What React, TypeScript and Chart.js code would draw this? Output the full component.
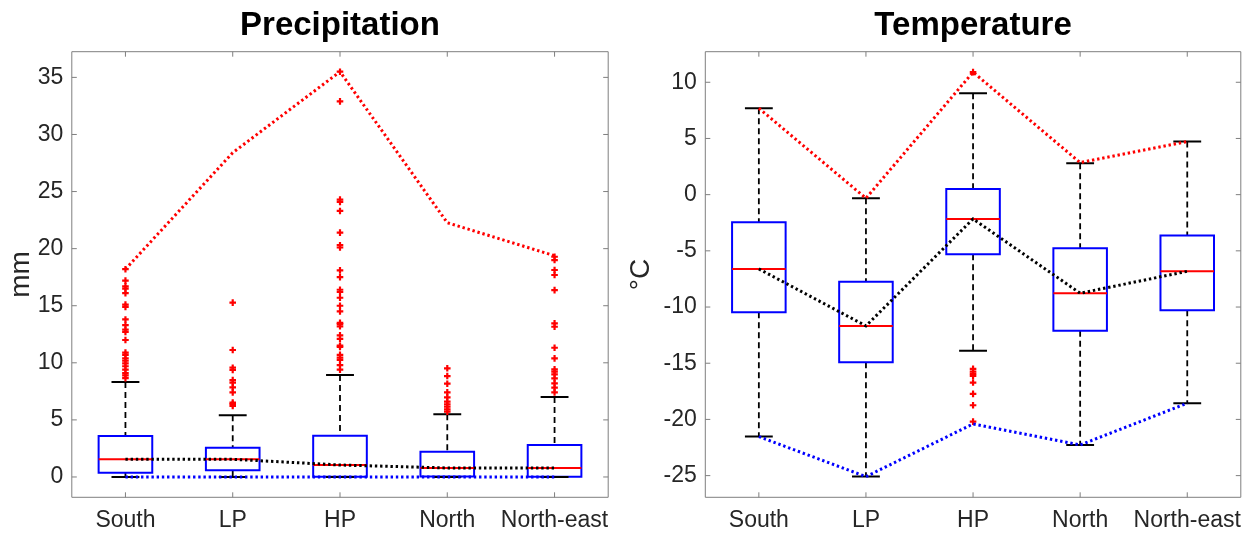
import React, { useEffect, useRef } from 'react';
import { Chart, registerables } from 'chart.js';

Chart.register(...registerables);

// ---------- data ----------
const categories = ['South', 'LP', 'HP', 'North', 'North-east'];

// Precipitation (mm)
const precipTicks = [0, 5, 10, 15, 20, 25, 30, 35];
const precipQ1 = [0.37, 0.6, 0.02, 0.04, 0.02];
const precipMedian = [1.56, 1.55, 1.05, 0.79, 0.78];
const precipQ3 = [3.6, 2.57, 3.62, 2.22, 2.8];
const precipLowerWhisker = [0, 0, 0, 0, 0];
const precipUpperWhisker = [8.33, 5.4, 8.93, 5.5, 7.0];
const precipOutliersSouth = [18.2, 17.2, 16.7, 16.5, 16.1, 15.1, 14.9, 13.8, 13.3, 12.9, 12.7, 12.0, 10.9, 10.7, 10.4, 10.2, 9.95, 9.7, 9.4, 9.1, 8.9, 8.65];
const precipOutliersLP = [15.27, 11.12, 9.57, 9.37, 8.49, 8.26, 7.85, 7.41, 6.51, 6.39, 6.22];
const precipOutliersHP = [35.5, 32.9, 24.3, 24.1, 23.3, 21.4, 20.3, 20.1, 18.1, 17.5, 16.4, 16.2, 15.7, 15.0, 14.5, 13.5, 13.4, 13.2, 12.4, 12.1, 11.5, 11.4, 10.7, 10.45, 10.25, 9.8, 9.4];
const precipOutliersNorth = [9.52, 8.84, 8.17, 7.41, 6.98, 6.6, 6.37, 6.16, 5.93, 5.72];
const precipOutliersNE = [19.29, 19.0, 18.13, 17.69, 16.37, 13.46, 13.16, 11.32, 10.39, 9.43, 9.22, 8.99, 8.64, 8.2, 7.82, 7.41];
const precipMaxLine = [18.2, 28.4, 35.5, 22.27, 19.38];
const precipMinLine = [0, 0, 0, 0, 0];

// Temperature (°C)
const tempTicks = [-25, -20, -15, -10, -5, 0, 5, 10];
const tempQ1 = [-10.46, -14.91, -5.3, -12.1, -10.29];
const tempMedian = [-6.61, -11.68, -2.16, -8.77, -6.82];
const tempQ3 = [-2.46, -7.74, 0.51, -4.77, -3.64];
const tempLowerWhisker = [-21.53, -25.09, -13.9, -22.27, -18.56];
const tempUpperWhisker = [7.69, -0.32, 9.02, 2.79, 4.72];
const tempOutliersSouth: number[] = [];
const tempOutliersLP: number[] = [];
const tempOutliersHP = [10.9, -15.5, -15.75, -15.95, -16.13, -16.72, -17.73, -18.74, -20.2];
const tempOutliersNorth: number[] = [];
const tempOutliersNE: number[] = [];
const tempMaxLine = [7.69, -0.32, 10.9, 2.85, 4.72];
const tempMinLine = [-21.53, -25.09, -20.4, -22.27, -18.56];

// ---------- styling ----------
const FONT = "'Liberation Sans', Arial, Helvetica, sans-serif";
const TEXT = '#262626';
const AXIS = '#7f7f7f';
const BLUE = '#0000ff';
const RED = '#ff0000';
const BLACK = '#000000';

type Pt = { x: number; y: number | null };

function buildDatasets(
  q1: number[], med: number[], q3: number[], lo: number[], hi: number[],
  outliers: number[][], maxLine: number[], minLine: number[]
) {
  const W = 0.25;
  const C = 0.13;
  const box: Pt[] = [];
  const medSeg: Pt[] = [];
  const whisk: Pt[] = [];
  const caps: Pt[] = [];
  const outl: Pt[] = [];
  categories.forEach((_, i) => {
    const x = i + 1;
    box.push({ x: x - W, y: q1[i] }, { x: x - W, y: q3[i] }, { x: x + W, y: q3[i] }, { x: x + W, y: q1[i] }, { x: x - W, y: q1[i] }, { x, y: null });
    medSeg.push({ x: x - W, y: med[i] }, { x: x + W, y: med[i] }, { x, y: null });
    whisk.push({ x, y: hi[i] }, { x, y: q3[i] }, { x, y: null }, { x, y: q1[i] }, { x, y: lo[i] }, { x, y: null });
    caps.push({ x: x - C, y: hi[i] }, { x: x + C, y: hi[i] }, { x, y: null }, { x: x - C, y: lo[i] }, { x: x + C, y: lo[i] }, { x, y: null });
    outliers[i].forEach((v) => outl.push({ x, y: v }));
  });
  const line = (v: number[]) => v.map((y, i) => ({ x: i + 1, y }));
  const base = { pointRadius: 0, tension: 0, fill: false, spanGaps: false };
  const dotted = { borderWidth: 3, borderDash: [2.4, 2.8] };
  return [
    { ...base, ...dotted, data: line(med), borderColor: BLACK },
    { ...base, ...dotted, data: line(minLine), borderColor: BLUE },
    { ...base, ...dotted, data: line(maxLine), borderColor: RED },
    { ...base, data: outl, showLine: false, pointRadius: 3.3, pointStyle: 'cross', pointBorderColor: RED, pointBorderWidth: 2.2, borderColor: RED },
    { ...base, data: medSeg, borderColor: RED, borderWidth: 2 },
    { ...base, data: caps, borderColor: BLACK, borderWidth: 2 },
    { ...base, data: box, borderColor: BLUE, borderWidth: 2, borderCapStyle: 'square', borderJoinStyle: 'miter' },
    { ...base, data: whisk, borderColor: BLACK, borderWidth: 1.8, borderDash: [6, 4] },
  ];
}

const boxPlugin = {
  id: 'matlabBox',
  afterDatasetsDraw(chart: any) {
    const { ctx, chartArea } = chart;
    const { left, right, top, bottom } = chartArea;
    const xs = chart.scales.x;
    const ys = chart.scales.y;
    ctx.save();
    ctx.strokeStyle = AXIS;
    ctx.lineWidth = 1;
    ctx.beginPath();
    ctx.rect(left, top, right - left, bottom - top);
    const L = 5;
    xs.ticks.forEach((t: any) => {
      const px = xs.getPixelForValue(t.value);
      ctx.moveTo(px, bottom);
      ctx.lineTo(px, bottom - L);
      ctx.moveTo(px, top);
      ctx.lineTo(px, top + L);
    });
    ys.ticks.forEach((t: any) => {
      const py = ys.getPixelForValue(t.value);
      ctx.moveTo(left, py);
      ctx.lineTo(left + L, py);
      ctx.moveTo(right, py);
      ctx.lineTo(right - L, py);
    });
    ctx.stroke();
    ctx.restore();
  },
};

interface PanelProps {
  title: string;
  yTitle: string;
  yTicks: number[];
  yMin: number;
  yMax: number;
  datasets: any[];
  left: number;
  width: number;
  yAxisWidth: number;
  padRight: number;
}

function Panel(p: PanelProps) {
  const ref = useRef<HTMLCanvasElement>(null);
  useEffect(() => {
    if (!ref.current) return;
    const chart = new Chart(ref.current, {
      type: 'line',
      data: { datasets: p.datasets },
      plugins: [boxPlugin],
      options: {
        animation: false,
        responsive: false,
        events: [],
        layout: { padding: { left: 0, right: p.padRight, top: 0, bottom: 0 } },
        plugins: {
          legend: { display: false },
          tooltip: { enabled: false },
          title: {
            display: true,
            text: p.title,
            fullSize: false,
            color: BLACK,
            font: { family: FONT, size: 33, weight: 'bold', lineHeight: 1.2 },
            padding: { top: 6.5, bottom: 5.6 },
          },
        },
        scales: {
          x: {
            type: 'linear',
            min: 0.5,
            max: 5.5,
            afterBuildTicks: (s: any) => {
              s.ticks = categories.map((_, i) => ({ value: i + 1 }));
            },
            afterFit: (s: any) => {
              s.height = 36.7;
            },
            ticks: {
              autoSkip: false,
              maxRotation: 0,
              minRotation: 0,
              padding: 9.5,
              color: TEXT,
              font: { family: FONT, size: 23 },
              callback: (v: any) => categories[Math.round(Number(v)) - 1] ?? '',
            },
            grid: { display: false, drawTicks: false },
            border: { display: false },
          },
          y: {
            type: 'linear',
            min: p.yMin,
            max: p.yMax,
            afterBuildTicks: (s: any) => {
              s.ticks = p.yTicks.map((v) => ({ value: v }));
            },
            afterFit: (s: any) => {
              s.width = p.yAxisWidth;
            },
            ticks: {
              padding: 8.5,
              color: TEXT,
              font: { family: FONT, size: 23 },
              callback: (v: any) => String(v),
            },
            grid: { display: false, drawTicks: false },
            border: { display: false },
            title: {
              display: true,
              text: p.yTitle,
              color: TEXT,
              font: { family: FONT, size: 28 },
              padding: { top: 4, bottom: 0 },
            },
          },
        },
      } as any,
    });
    return () => chart.destroy();
  }, []);
  return (
    <canvas
      ref={ref}
      width={p.width}
      height={534}
      style={{ position: 'absolute', left: p.left, top: 0, width: p.width, height: 534 }}
    />
  );
}

export default function App() {
  const precipDatasets = buildDatasets(
    precipQ1, precipMedian, precipQ3, precipLowerWhisker, precipUpperWhisker,
    [precipOutliersSouth, precipOutliersLP, precipOutliersHP, precipOutliersNorth, precipOutliersNE],
    precipMaxLine, precipMinLine
  );
  const tempDatasets = buildDatasets(
    tempQ1, tempMedian, tempQ3, tempLowerWhisker, tempUpperWhisker,
    [tempOutliersSouth, tempOutliersLP, tempOutliersHP, tempOutliersNorth, tempOutliersNE],
    tempMaxLine, tempMinLine
  );
  return (
    <div style={{ position: 'absolute', left: 0, top: 0, width: 1253, height: 534, background: '#ffffff', overflow: 'hidden' }}>
      <Panel
        title="Precipitation"
        yTitle="mm"
        yTicks={precipTicks}
        yMin={-1.78}
        yMax={37.25}
        datasets={precipDatasets}
        left={0}
        width={625}
        yAxisWidth={71.8}
        padRight={16.8}
      />
      <Panel
        title="Temperature"
        yTitle="°C"
        yTicks={tempTicks}
        yMin={-26.93}
        yMax={12.72}
        datasets={tempDatasets}
        left={620}
        width={633}
        yAxisWidth={85.3}
        padRight={12.2}
      />
    </div>
  );
}
